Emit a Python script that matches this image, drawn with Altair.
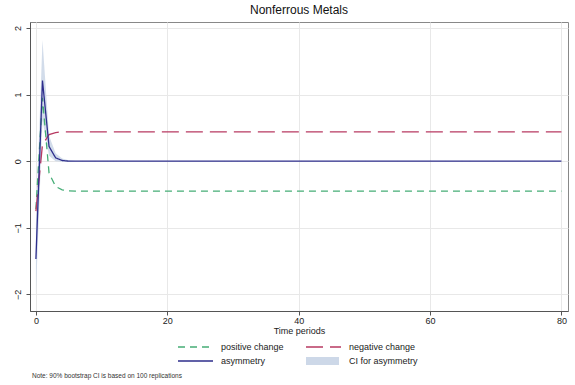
import altair as alt
import pandas as pd

periods = list(range(0, 81))

positive_change = [-0.72, 0.95, -0.18, -0.38, -0.43, -0.445] + [-0.45] * 75
negative_change = [-0.75, 0.25, 0.40, 0.43, 0.44, 0.44] + [0.44] * 75
asymmetry = [-1.47, 1.21, 0.22, 0.05, 0.01, 0.0] + [0.0] * 75
ci_lower = [-2.00, 0.62, 0.08, 0.0, -0.01, -0.005] + [-0.003] * 75
ci_upper = [-0.95, 1.82, 0.38, 0.12, 0.04, 0.015] + [0.004] * 75

series_names = ["positive change", "negative change", "asymmetry", "CI for asymmetry"]
series_colors = ["#45ad76", "#b83a62", "#2e2e8c", "#cdd8e8"]
series_dashes = [[7, 5], [17, 7], [1, 0], [1, 0]]

title_text = "Nonferrous Metals"
x_title = "Time periods"
note_text = ["Note: 90% bootstrap CI is based on 100 replications"]
x_ticks = [0, 20, 40, 60, 80]
y_ticks = [-2, -1, 0, 1, 2]

lines = pd.DataFrame({
    "t": periods * 3,
    "value": positive_change + negative_change + asymmetry,
    "series": ["positive change"] * 81 + ["negative change"] * 81 + ["asymmetry"] * 81,
})
band = pd.DataFrame({"t": periods, "lo": ci_lower, "hi": ci_upper,
                     "series": ["CI for asymmetry"] * 81})
note = pd.DataFrame({"note": note_text})

color_scale = alt.Scale(domain=series_names, range=series_colors)
dash_scale = alt.Scale(domain=series_names, range=series_dashes)

x_enc = alt.X("t:Q", scale=alt.Scale(domain=[-0.9, 81], nice=False),
              axis=alt.Axis(values=x_ticks, title=x_title, grid=True, format="d"))
y_scale = alt.Scale(domain=[-2.25, 2.09], nice=False)

area = alt.Chart(band).mark_area(opacity=0.9).encode(
    x=x_enc,
    y=alt.Y("lo:Q", scale=y_scale,
            axis=alt.Axis(values=y_ticks, title=None, labelAngle=270, format="d",
                          labelAlign="center", labelBaseline="bottom",
                          labelPadding=4, grid=True)),
    y2="hi:Q",
    color=alt.Color("series:N", scale=color_scale, legend=None),
)

line = alt.Chart(lines).mark_line(strokeWidth=1.3).encode(
    x=x_enc,
    y=alt.Y("value:Q", scale=y_scale),
    color=alt.Color("series:N", scale=color_scale, legend=None),
    strokeDash=alt.StrokeDash("series:N", scale=dash_scale, legend=None),
    detail="series:N",
)

# manual Stata-style legend (2 x 2 grid below the plot)
leg_layers = []
slots = [(148, 325), (276, 325), (148, 339), (276, 339)]
for name, col, dash, (sx, sy) in zip(series_names, series_colors, series_dashes, slots):
    d = pd.DataFrame({"label": [name]})
    if name == "CI for asymmetry":
        sym = alt.Chart(d).mark_rect(color=col).encode(
            x=alt.value(sx), x2=alt.value(sx + 33), y=alt.value(sy - 4), y2=alt.value(sy + 4))
    else:
        sym = alt.Chart(d).mark_rule(color=col, strokeWidth=1.3, strokeDash=dash).encode(
            x=alt.value(sx), x2=alt.value(sx + 35), y=alt.value(sy))
    lab = alt.Chart(d).mark_text(align="left", baseline="middle", fontSize=9,
                                 color="#222").encode(
        text="label:N", x=alt.value(sx + 43), y=alt.value(sy))
    leg_layers += [sym, lab]

note_mark = alt.Chart(note).mark_text(align="left", baseline="middle", fontSize=6.5,
                                      color="#333").encode(
    text="note:N", x=alt.value(2), y=alt.value(354))

chart = alt.layer(area, line, *leg_layers, note_mark).properties(
    width=538, height=289,
    title=alt.TitleParams(title_text, fontSize=12, fontWeight="normal", color="#111",
                          anchor="middle", offset=5),
    padding={"left": 30, "top": 22, "right": 7, "bottom": 74},
    autosize=alt.AutoSizeParams(type="none"),
).configure(font="Liberation Sans").configure_view(
    stroke="#888", strokeWidth=1
).configure_axis(
    domainColor="#555", tickColor="#555", gridColor="#e8e8e8", gridWidth=1,
    labelFontSize=9, labelColor="#222", titleFontSize=9, titleColor="#222",
    titleFontWeight="normal", tickSize=4
).configure_axisX(labelPadding=1, titlePadding=1)

chart.save("out.html", embed_options={"renderer": "svg", "actions": False})
